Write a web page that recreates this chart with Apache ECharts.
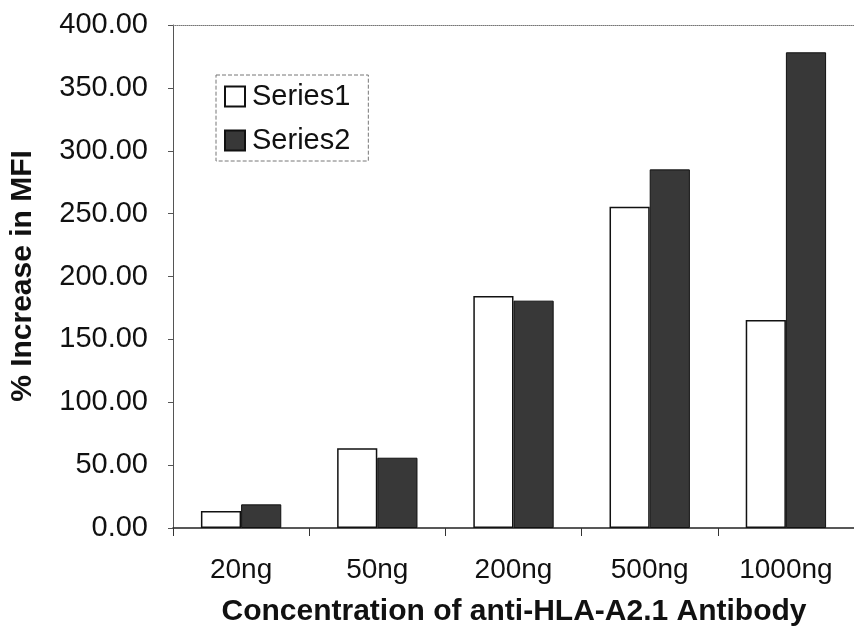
<!DOCTYPE html>
<html>
<head>
<meta charset="utf-8">
<script src="https://cdn.jsdelivr.net/npm/echarts@6/dist/echarts.min.js"></script>
<style>html,body{margin:0;padding:0;background:#fff}#c{width:854px;height:639px}</style>
</head>
<body>
<div id="c"></div>
<script>
const categories = ['20ng', '50ng', '200ng', '500ng', '1000ng'];
const series1 = [13.5, 63.4, 184.5, 255.5, 165.4];
const series2 = [18.8, 55.9, 180.8, 285.2, 378.3];
const yTicks = { min: 0, max: 400, interval: 50 };
const xTitle = 'Concentration of anti-HLA-A2.1 Antibody';
const yTitle = '% Increase in MFI';

const FONT = '"Liberation Sans", Arial, sans-serif';
const chart = echarts.init(document.getElementById('c'));
chart.setOption({
  animation: false,
  backgroundColor: '#fff',
  textStyle: { fontFamily: FONT },
  grid: { left: 173, top: 25, width: 685, height: 503, containLabel: false },
  legend: {
    orient: 'vertical', left: 216, top: 75,
    padding: [7, 18, 6, 8],
    borderColor: '#777', borderWidth: 1, borderType: 'dashed',
    itemWidth: 20, itemHeight: 20, itemGap: 15,
    icon: 'rect',
    textStyle: { fontSize: 29, color: '#111', fontFamily: FONT, padding: [0, 0, 0, 2] },
    data: ['Series1', 'Series2']
  },
  xAxis: [{
    type: 'category', data: categories,
    axisLine: { lineStyle: { color: '#222', width: 1.5 } },
    axisTick: { show: true, length: 8, lineStyle: { color: '#333' } },
    axisLabel: { fontSize: 28, color: '#111', margin: 28, fontFamily: FONT },
    splitLine: { show: false }
  }, {
    type: 'category', data: categories, position: 'top',
    axisLine: { lineStyle: { color: '#777', width: 1, type: 'dotted' } },
    axisTick: { show: false }, axisLabel: { show: false }
  }],
  yAxis: {
    type: 'value', min: yTicks.min, max: yTicks.max, interval: yTicks.interval,
    axisLine: { show: true, lineStyle: { color: '#555', width: 1 } },
    axisTick: { show: true, length: 5, lineStyle: { color: '#555' } },
    axisLabel: { fontSize: 29, color: '#111', margin: 25, fontFamily: FONT,
      formatter: v => v.toFixed(2) },
    splitLine: { show: false }
  },
  series: [{
    name: 'Series1', type: 'bar', data: series1,
    barGap: '0%', barCategoryGap: '41%',
    itemStyle: { color: '#fff', borderColor: '#111', borderWidth: 1.5 }
  }, {
    name: 'Series2', type: 'bar', data: series2,
    barGap: '0%', barCategoryGap: '41%',
    itemStyle: { color: '#383838', borderColor: '#111', borderWidth: 1 }
  }],
  graphic: [{
    type: 'text', x: 23, y: 276, rotation: Math.PI / 2,
    style: { text: yTitle, fontSize: 30, fontWeight: 'bold', fill: '#111',
      fontFamily: FONT, align: 'center', verticalAlign: 'middle' }
  }, {
    type: 'text', x: 514, y: 612,
    style: { text: xTitle, fontSize: 30, fontWeight: 'bold', fill: '#111',
      fontFamily: FONT, align: 'center', verticalAlign: 'middle' }
  }]
});
</script>
</body>
</html>
